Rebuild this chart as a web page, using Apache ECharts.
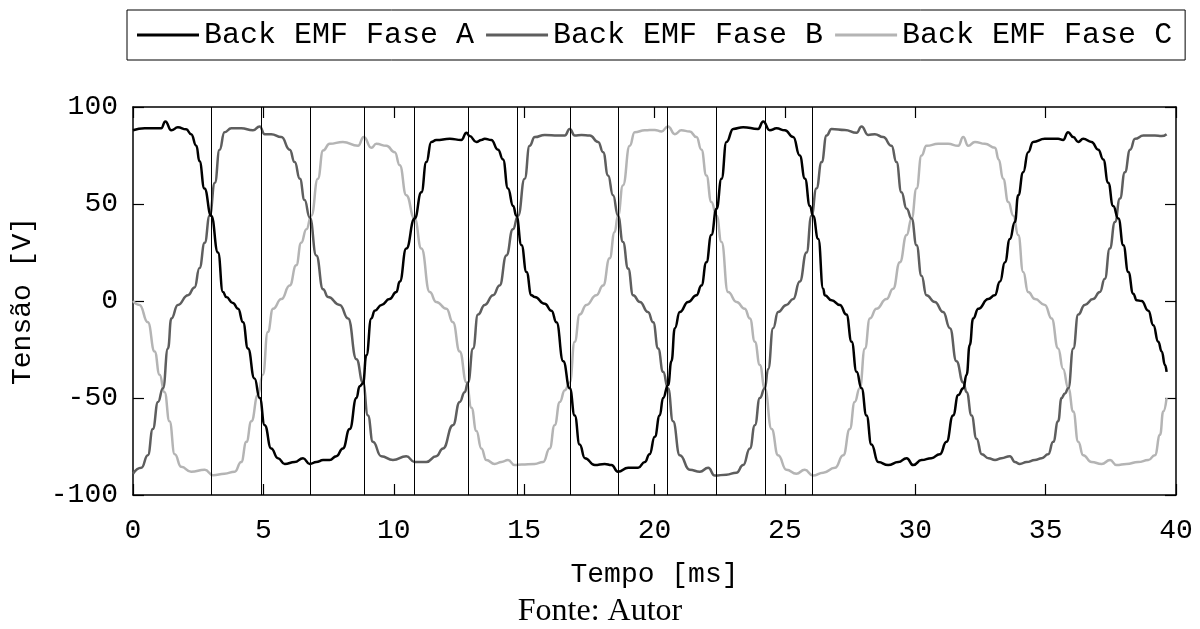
<!DOCTYPE html>
<html>
<head>
<meta charset="utf-8">
<script src="https://cdn.jsdelivr.net/npm/echarts@6/dist/echarts.min.js"></script>
<style>
html,body{margin:0;padding:0;background:#fff;}
#chart{width:1200px;height:629px;}
</style>
</head>
<body>
<div id="chart"></div>
<script>
// ---- data (time in ms, voltage in V) ----
const seriesNames = ['Back EMF Fase A', 'Back EMF Fase B', 'Back EMF Fase C'];
const xTicks = [0, 5, 10, 15, 20, 25, 30, 35, 40];
const yTicks = [-100, -50, 0, 50, 100];
const markerTimes = [3.0, 4.9, 6.8, 8.85, 10.8, 12.85, 14.75, 16.75, 18.6, 20.5, 22.35, 24.25, 26.05];

const phaseA = [
[0,88],[0.45,89],[0.96,89],[1.08,89],[1.24,92.5],[1.47,88],[1.72,89.5],[2.04,88.5],[2.23,86],[2.43,80],[2.55,72],[2.74,58],[3.0,44],[3.26,25],[3.45,4.6],[3.58,2],[3.83,-1],[4.03,-4],[4.22,-11],[4.41,-24.5],[4.66,-40],[4.86,-50],[5.05,-64],[5.3,-76],[5.56,-81],[5.82,-84],[6.2,-83],[6.52,-81],[6.78,-84],[7.03,-83],[7.29,-82],[7.54,-82],[7.8,-80],[8.05,-76],[8.31,-66],[8.57,-50],[8.69,-44],[8.82,-42.5],[8.95,-28],[9.14,-9],[9.27,-5],[9.53,-2],[9.84,1],[10.1,4.6],[10.23,10],[10.48,27],[10.8,42.5],[11.06,56],[11.25,71.6],[11.44,82],[11.63,83],[12.15,83.6],[12.59,83],[12.79,86.7],[12.91,85],[13.17,82],[13.36,83],[13.49,83.6],[13.74,83],[14.0,78],[14.19,73],[14.38,58],[14.58,49],[14.7,44],[14.9,28.7],[15.09,15],[15.28,3],[15.41,2],[15.79,-1.4],[16.05,-5],[16.24,-11],[16.5,-31],[16.75,-45],[16.94,-59],[17.13,-74],[17.33,-81],[17.71,-84.6],[18.09,-84],[18.35,-84.6],[18.6,-88],[18.99,-86],[19.37,-86],[19.63,-83],[19.81,-79],[20.01,-70],[20.2,-59],[20.33,-50],[20.52,-43.4],[20.65,-31],[20.78,-14],[20.97,-5.7],[21.29,-0.5],[21.61,3],[21.8,8],[21.99,20],[22.18,34],[22.38,47.6],[22.57,63],[22.76,82],[23.02,88.7],[23.4,89.6],[23.97,88.7],[24.17,92.5],[24.42,88],[24.68,89],[25.0,88],[25.32,84.5],[25.57,75],[25.77,63],[25.96,49],[26.08,44],[26.28,32],[26.47,6.3],[26.53,3],[26.79,0.4],[27.11,-2],[27.36,-7],[27.56,-21],[27.75,-36.5],[27.94,-45],[28.13,-59],[28.32,-74],[28.58,-83],[28.96,-84.6],[29.35,-83],[29.67,-81],[29.92,-84.6],[30.24,-82],[30.62,-81],[30.94,-79],[31.2,-72.6],[31.45,-59],[31.65,-48.5],[31.84,-45],[31.97,-38],[32.09,-22.7],[32.22,-9],[32.42,-4],[32.8,1],[33.05,3],[33.25,10],[33.44,20],[33.63,32],[33.82,40.7],[33.95,54.5],[34.14,66.4],[34.33,76.7],[34.52,82],[34.97,83.6],[35.48,83.6],[35.67,83],[35.86,87],[36.06,84.5],[36.25,82],[36.44,83.6],[36.76,82],[37.02,78],[37.21,73],[37.4,61],[37.59,49],[37.79,42.5],[37.98,28.7],[38.17,15],[38.36,3.8],[38.49,0.4],[38.68,0],[38.94,-5],[39.13,-12.5],[39.32,-21],[39.45,-26],[39.58,-33],[39.64,-36.5]
];

const phaseB = [
[0,-89],[0.32,-86],[0.57,-79.5],[0.76,-66],[0.96,-52],[1.15,-45],[1.34,-24.5],[1.47,-9],[1.72,-2],[2.11,3],[2.36,7],[2.55,17],[2.75,30],[2.94,44],[3.14,61],[3.32,78],[3.51,87],[3.77,89],[4.15,89],[4.6,88],[4.86,90],[5.05,86],[5.3,86],[5.69,84.5],[6.01,78],[6.2,71.6],[6.4,63],[6.58,52],[6.78,43],[7.03,23.5],[7.29,6],[7.48,2],[7.93,-2],[8.25,-9],[8.57,-30],[8.82,-42],[9.01,-59],[9.2,-72.6],[9.52,-80],[9.97,-82],[10.48,-80],[10.8,-83],[11.25,-83],[11.63,-80],[11.89,-76],[12.27,-64],[12.53,-52],[12.72,-47],[12.85,-42],[13.04,-24.5],[13.23,-7],[13.49,-2],[13.81,3],[14.06,8],[14.32,23.5],[14.57,37],[14.77,44],[15.02,63],[15.21,80],[15.41,84.5],[15.79,85.6],[16.3,85.3],[16.56,85.3],[16.75,88.7],[16.94,85.3],[17.2,85.6],[17.52,85.3],[17.84,82],[18.03,76.7],[18.22,64.7],[18.41,54.5],[18.6,44],[18.79,30.4],[18.99,16.7],[19.18,3],[19.44,-0.5],[19.75,-5.7],[19.95,-11],[20.14,-24.5],[20.33,-36.5],[20.52,-45],[20.71,-62],[20.97,-79.5],[21.35,-87],[21.74,-88],[22.06,-86],[22.31,-90],[22.76,-89.5],[23.14,-88.5],[23.4,-84.6],[23.66,-76],[23.85,-64],[24.04,-50],[24.23,-45],[24.36,-35],[24.55,-14],[24.74,-5.7],[25.06,-2],[25.32,1],[25.57,10],[25.83,25],[26.02,44],[26.21,58],[26.41,71.6],[26.6,85.3],[26.79,88.7],[27.3,88.2],[27.75,86.7],[27.94,90],[28.19,85.6],[28.45,86],[28.77,84.5],[29.09,80],[29.28,71.6],[29.47,56],[29.67,47.6],[29.86,42.5],[30.05,28.7],[30.24,13],[30.43,3],[30.75,-0.5],[31.07,-5.7],[31.33,-14],[31.58,-31],[31.84,-42],[31.97,-47],[32.16,-59],[32.35,-71],[32.55,-79],[32.81,-81],[33.06,-82],[33.31,-81],[33.63,-80],[33.82,-83],[34.01,-84],[34.27,-83],[34.59,-82],[34.85,-81],[35.1,-79],[35.29,-72.6],[35.48,-62],[35.61,-50],[35.74,-47.7],[35.87,-45],[36.06,-24.5],[36.25,-7],[36.5,-2],[36.82,1],[37.08,4.6],[37.27,11.5],[37.46,27],[37.66,40.7],[37.85,52.8],[38.04,66.4],[38.24,78],[38.43,83.6],[38.75,85.3],[39.19,85.3],[39.45,85],[39.64,86]
];

const phaseC = [
[0,0],[0.25,-2],[0.57,-11],[0.83,-26],[1.02,-38],[1.21,-47],[1.4,-62],[1.6,-79],[1.85,-85.5],[2.23,-88],[2.75,-87],[3.07,-89.8],[3.51,-89],[3.9,-88],[4.15,-83],[4.35,-72.6],[4.54,-62],[4.79,-48.5],[4.98,-38],[5.17,-16],[5.37,-4],[5.69,1],[6.01,8],[6.26,18.4],[6.45,30],[6.65,37],[6.84,44],[7.09,63],[7.29,77.6],[7.54,81],[8.05,82],[8.63,80],[8.85,84.5],[9.14,79],[9.33,81],[9.72,80],[10.04,76.7],[10.23,70],[10.48,54.5],[10.8,42.5],[11.06,27],[11.38,4.6],[11.63,-0.5],[12.02,-4],[12.27,-11],[12.53,-26],[12.79,-42],[12.98,-55],[13.17,-67],[13.36,-76],[13.55,-82],[13.87,-84],[14.13,-83],[14.38,-82],[14.64,-84.6],[14.9,-84.3],[15.41,-84],[15.73,-83],[15.98,-76],[16.17,-64],[16.37,-52],[16.56,-46],[16.75,-42],[16.94,-21],[17.13,-7],[17.39,-2],[17.77,3],[18.03,8],[18.28,22],[18.47,35.5],[18.6,44],[18.79,59.6],[19.05,80],[19.24,87],[19.63,88],[20.01,88.2],[20.27,87.4],[20.52,90],[20.78,86],[21.03,88],[21.35,87.4],[21.61,84.5],[21.8,78],[21.99,64.7],[22.18,51],[22.38,44],[22.57,30.4],[22.82,4.6],[23.15,-0.5],[23.46,-4],[23.66,-9],[23.85,-21],[24.04,-33],[24.23,-45],[24.49,-66],[24.74,-79.5],[25.06,-87],[25.44,-89],[25.76,-87],[26.08,-90],[26.47,-88.5],[26.92,-86],[27.24,-79.5],[27.49,-66],[27.68,-52],[27.87,-45],[28.07,-24.5],[28.26,-9],[28.51,-4],[28.9,1],[29.15,6.3],[29.41,20],[29.67,34],[29.86,42.5],[30.05,58],[30.24,75],[30.43,80],[30.88,81],[31.26,81],[31.65,80],[31.84,84.5],[32.03,80],[32.29,82],[32.67,81],[33.06,79],[33.2,73],[33.37,63],[33.57,51],[33.76,44],[33.95,34],[34.14,15],[34.33,4.6],[34.59,1],[34.97,-2],[35.23,-9],[35.48,-24.5],[35.67,-35],[35.87,-45],[36.06,-57],[36.25,-72.6],[36.44,-79.5],[36.76,-83],[37.15,-84],[37.47,-82],[37.72,-84.6],[38.1,-84],[38.55,-83],[38.94,-82],[39.19,-79.5],[39.39,-69],[39.51,-57],[39.64,-50]
];

const colors = ['#000000', '#5e5e5e', '#b4b4b4'];

// ---- chart ----
const chart = echarts.init(document.getElementById('chart'), null, {renderer: 'canvas'});
const mono = 'Liberation Mono';
const xMin = xTicks[0], xMax = xTicks[xTicks.length - 1];
const yMin = yTicks[0], yMax = yTicks[yTicks.length - 1];
const xInt = xTicks[1] - xTicks[0], yInt = yTicks[1] - yTicks[0];

function axisCommon() {
  return {
    axisLine: {show: true, onZero: false, lineStyle: {color: '#000', width: 1.5}},
    axisTick: {show: true, inside: true, length: 11, lineStyle: {color: '#000', width: 1.2}},
    splitLine: {show: false}
  };
}

const option = {
  animation: false,
  backgroundColor: '#ffffff',
  color: colors,
  grid: {left: 133, right: 24, top: 107, bottom: 134, containLabel: false},
  legend: {
    data: seriesNames.map(n => ({name: n, icon: 'rect'})),
    left: 127, top: 10,
    padding: [10, 13, 10, 10],
    itemGap: 12,
    itemWidth: 62, itemHeight: 3,
    borderColor: '#000', borderWidth: 1,
    textStyle: {fontFamily: mono, fontSize: 30, color: '#000'}
  },
  xAxis: [
    Object.assign(axisCommon(), {
      type: 'value', min: xMin, max: xMax, interval: xInt, position: 'bottom',
      name: 'Tempo [ms]', nameLocation: 'middle', nameGap: 66,
      nameTextStyle: {fontFamily: mono, fontSize: 28, color: '#000'},
      axisLabel: {show: true, margin: 22, fontFamily: mono, fontSize: 28, color: '#000'}
    }),
    Object.assign(axisCommon(), {
      type: 'value', min: xMin, max: xMax, interval: xInt, position: 'top',
      axisLabel: {show: false}
    })
  ],
  yAxis: [
    Object.assign(axisCommon(), {
      type: 'value', min: yMin, max: yMax, interval: yInt, position: 'left',
      name: 'Tensão [V]', nameLocation: 'middle', nameGap: 96, nameRotate: 90,
      nameTextStyle: {fontFamily: mono, fontSize: 28, color: '#000'},
      axisLabel: {show: true, margin: 15, fontFamily: mono, fontSize: 28, color: '#000'}
    }),
    Object.assign(axisCommon(), {
      type: 'value', min: yMin, max: yMax, interval: yInt, position: 'right',
      axisLabel: {show: false}
    })
  ],
  graphic: [{
    type: 'text', left: 'center', top: 596,
    style: {text: 'Fonte: Autor', font: '32px "Liberation Serif"', fill: '#000'}
  }],
  series: [phaseA, phaseB, phaseC].map((d, i) => ({
    name: seriesNames[i],
    type: 'line',
    data: d,
    showSymbol: false,
    symbol: 'none',
    smooth: 0.5,
    smoothMonotone: 'x',
    z: 5 - i,
    lineStyle: {color: colors[i], width: 2.5},
    itemStyle: {color: colors[i]},
    markLine: i === 0 ? {
      silent: true,
      symbol: ['none', 'none'],
      label: {show: false},
      lineStyle: {color: '#000', width: 1, type: 'solid'},
      data: markerTimes.map(t => ({xAxis: t}))
    } : undefined
  }))
};
chart.setOption(option);
</script>
</body>
</html>
